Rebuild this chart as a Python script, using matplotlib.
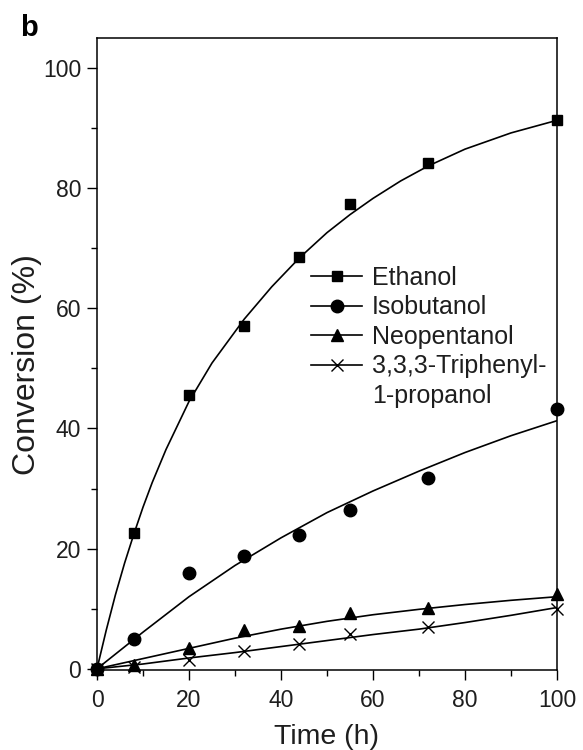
import matplotlib
matplotlib.use('Agg')
import matplotlib.pyplot as plt
from matplotlib.lines import Line2D
from matplotlib.ticker import MultipleLocator

plt.rcParams['font.family'] = ['Liberation Sans', 'DejaVu Sans']

# ---- measured data ----
time_h = [0, 8, 20, 32, 44, 55, 72, 100]
ethanol = [0, 22.6, 45.5, 57.0, 68.5, 77.3, 84.2, 91.3]
isobutanol = [0, 4.9, 15.9, 18.8, 22.2, 26.5, 31.8, 43.2]
neopentanol = [0, 0.6, 3.4, 6.4, 7.1, 9.3, 10.2, 12.4]
triphenylpropanol = [0, 0.3, 1.5, 2.9, 4.1, 5.8, 6.9, 10.0]

# ---- fitted curves ----
eth_fit_t = [0, 2, 4, 6, 8, 10, 12, 15, 20, 25, 32, 38, 44, 50, 55, 60, 66, 72, 80, 90, 100]
eth_fit_v = [0, 6.4, 12.3, 17.6, 22.4, 26.9, 31.0, 36.5, 44.5, 50.9, 58.2, 63.6, 68.4,
             72.6, 75.6, 78.3, 81.2, 83.7, 86.5, 89.2, 91.3]
fit_t = [0, 10, 20, 30, 40, 50, 60, 70, 80, 90, 100]
iso_fit_v = [0, 6.1, 12.0, 17.2, 21.8, 26.0, 29.6, 32.9, 36.0, 38.8, 41.3]
neo_fit_v = [0, 1.7, 3.4, 5.1, 6.6, 7.9, 9.0, 9.9, 10.7, 11.4, 12.0]
tri_fit_v = [0, 0.8, 1.8, 2.7, 3.7, 4.7, 5.7, 6.6, 7.7, 8.9, 10.2]

labels = ['Ethanol', 'Isobutanol', 'Neopentanol', '3,3,3-Triphenyl-']
label_line2 = '1-propanol'
x_ticks = [0, 20, 40, 60, 80, 100]
y_ticks = [0, 20, 40, 60, 80, 100]

W, H = 583, 750
fig = plt.figure(figsize=(W / 100, H / 100), dpi=100)
ax = fig.add_axes([97 / W, 1 - 670 / H, 460 / W, 632 / H])

lw_fit = 1.2
for fx, fy in [(eth_fit_t, eth_fit_v), (fit_t, iso_fit_v), (fit_t, neo_fit_v), (fit_t, tri_fit_v)]:
    ax.plot(fx, fy, color='black', lw=lw_fit, zorder=2)

ax.plot(time_h, ethanol, linestyle='none', marker='s', ms=7.5, color='black', clip_on=False, zorder=3)
ax.plot(time_h, isobutanol, linestyle='none', marker='o', ms=9, color='black', clip_on=False, zorder=3)
ax.plot(time_h, neopentanol, linestyle='none', marker='^', ms=9, color='black', clip_on=False, zorder=3)
ax.plot(time_h, triphenylpropanol, linestyle='none', marker='x', ms=9, mew=1.0, color='black',
        clip_on=False, zorder=3)

ax.set_xlim(0, 100)
ax.set_ylim(-0.2, 105)
ax.set_xticks(x_ticks)
ax.set_yticks(y_ticks)
ax.xaxis.set_minor_locator(MultipleLocator(10))
ax.yaxis.set_minor_locator(MultipleLocator(10))
ax.tick_params(axis='both', which='major', direction='out', length=7.5, width=1.0,
               labelsize=16.5, labelcolor='#1e1e1e', pad=4)
ax.tick_params(axis='both', which='minor', direction='out', length=4, width=1.0)
ax.tick_params(axis='x', which='major', pad=6)
for sp in ax.spines.values():
    sp.set_linewidth(1.1)

ax.set_xlabel('Time (h)', fontsize=20.5, color='#1e1e1e')
ax.set_ylabel('Conversion (%)', fontsize=23, color='#1e1e1e')
ax.xaxis.set_label_coords(0.5, -0.085)
ax.yaxis.label.set_verticalalignment('center')
ax.yaxis.set_label_coords(-0.152, 0.484)

handles = [
    Line2D([], [], color='black', lw=1.2, marker='s', ms=7.5),
    Line2D([], [], color='black', lw=1.2, marker='o', ms=9),
    Line2D([], [], color='black', lw=1.2, marker='^', ms=9),
    Line2D([], [], color='black', lw=1.2, marker='x', ms=9, mew=1.0),
    Line2D([], [], linestyle='none'),
]
leg = ax.legend(handles, labels + [label_line2], loc='upper left',
                bbox_to_anchor=(311 / W, 1 - 266 / H), bbox_transform=fig.transFigure,
                frameon=False, fontsize=18, handlelength=2.05, handletextpad=0.4,
                labelspacing=0.22, borderpad=0, borderaxespad=0, numpoints=1)
for t in leg.get_texts():
    t.set_color('#1e1e1e')

fig.text(20 / W, 1 - 36 / H, 'b', fontsize=21, fontweight='bold', ha='left', va='baseline')

fig.savefig('out.png', dpi=100)
